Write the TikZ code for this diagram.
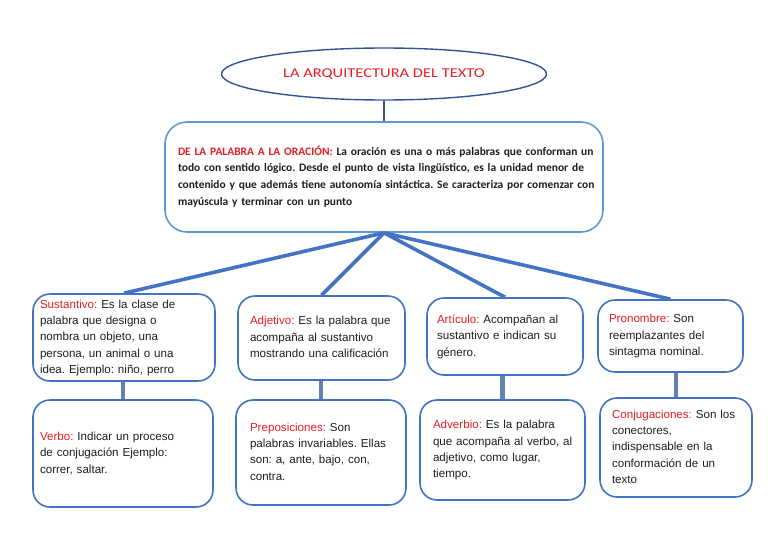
\documentclass[tikz,border=0pt]{standalone}
\usepackage{fontspec}
\usepackage{graphicx}
\setmainfont{Liberation Sans}
\newfontfamily\calib{Carlito}
\usetikzlibrary{shapes.geometric,calc}
\frenchspacing
\definecolor{boxblue}{RGB}{68,114,196}
\definecolor{darkblue}{RGB}{47,85,151}
\definecolor{lblue}{RGB}{91,155,213}
\definecolor{conngray}{RGB}{100,130,175}
\definecolor{txtred}{RGB}{230,30,35}
\definecolor{txtdark}{RGB}{30,30,30}
\tikzset{
  cbox/.style={draw=boxblue, line width=1.6pt, rounded corners=17pt, fill=white,
    align=left, text=txtdark, font=\frenchspacing\fontsize{11.6}{16.3}\selectfont, inner ysep=0pt},
  fan/.style={draw=boxblue, line width=3.6pt},
  vconn/.style={draw=conngray, line width=4.5pt},
}
\newcommand{\lab}[1]{\textcolor{txtred}{#1}}
\newcommand{\lines}[1]{\begin{tabular}{@{}l@{}}#1\end{tabular}}
\begin{document}
\begin{tikzpicture}[x=1pt,y=-1pt]
\useasboundingbox (0,0) rectangle (768,543);
% title
\node[ellipse, draw=darkblue, line width=1.4pt, minimum width=325pt, minimum height=52pt,
  text=txtred, font=\calib\fontsize{13.5}{15}\selectfont] (title) at (384,74)
  {\scalebox{1.22}[1]{LA ARQUITECTURA DEL TEXTO}};
% main box
\node[cbox, draw=lblue, rounded corners=22pt, text width=412pt, minimum height=110pt, inner xsep=13pt,
  font=\frenchspacing\calib\bfseries\fontsize{11.45}{16.8}\selectfont] (main) at (384,177)
  {\lines{\lab{DE LA PALABRA A LA ORACIÓN:} La oración es una o más palabras que conforman un\\
   todo con sentido lógico. Desde el punto de vista lingüístico, es la unidad menor de\\
   contenido y que además tiene autonomía sintáctica. Se caracteriza por comenzar con\\
   mayúscula y terminar con un punto}};
\draw[darkblue, line width=1.6pt] (title.south) -- (main.north);
% upper row
\node[cbox, text width=168pt, minimum height=87pt, inner xsep=7pt] (b1) at (124,337.5)
  {\lines{\lab{Sustantivo:} Es la clase de\\ palabra que designa o\\ nombra un objeto, una\\ persona, un animal o una\\ idea. Ejemplo: niño, perro}};
\node[cbox, text width=143pt, minimum height=84pt, inner xsep=12pt] (b2) at (321.5,338)
  {\lines{\lab{Adjetivo:} Es la palabra que\\ acompaña al sustantivo\\ mostrando una calificación}};
\node[cbox, text width=136pt, minimum height=77pt, inner xsep=10pt] (b3) at (505,336.5)
  {\lines{\lab{Artículo:} Acompañan al\\ sustantivo e indican su\\ género.}};
\node[cbox, text width=123pt, minimum height=72pt, inner xsep=11pt] (b4) at (670.5,336)
  {\lines{\lab{Pronombre:} Son\\ reemplazantes del\\ sintagma nominal.}};
% lower row
\node[cbox, text width=166pt, minimum height=107pt, inner xsep=7pt] (b5) at (123,453.5)
  {\lines{\lab{Verbo:} Indicar un proceso\\ de conjugación Ejemplo:\\ correr, saltar.}};
\node[cbox, text width=142pt, minimum height=105pt, inner xsep=14pt] (b6) at (321,452.5)
  {\lines{\lab{Preposiciones:} Son\\ palabras invariables. Ellas\\ son: a, ante, bajo, con,\\ contra.}};
\node[cbox, text width=139pt, minimum height=100pt, inner xsep=13pt] (b7) at (502.5,450)
  {\lines{\lab{Adverbio:} Es la palabra\\ que acompaña al verbo, al\\ adjetivo, como lugar,\\ tiempo.}};
\node[cbox, text width=128pt, minimum height=99pt, inner xsep=12pt] (b8) at (676,447.5)
  {\lines{\lab{Conjugaciones:} Son los\\ conectores,\\ indispensable en la\\ conformación de un\\ texto}};
% fan connectors
\foreach \b in {b1,b2,b3,b4} \draw[fan] (main.south) -- (\b.north);
% vertical connectors
\draw[vconn] (b5.north |- b1.south) -- (b5.north);
\draw[vconn] (b6.north |- b2.south) -- (b6.north);
\draw[vconn] (b7.north |- b3.south) -- (b7.north);
\draw[vconn] (b8.north |- b4.south) -- (b8.north);
\end{tikzpicture}
\end{document}
